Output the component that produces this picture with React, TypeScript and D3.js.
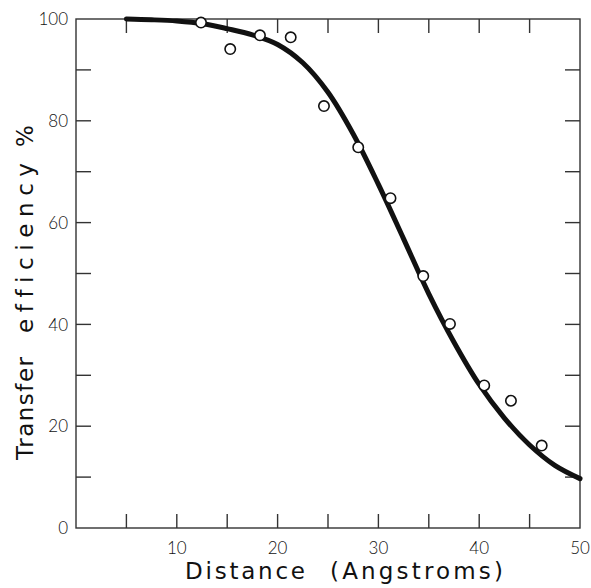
import React, { useEffect, useRef } from 'react';
import * as d3 from 'd3';

// measured points (distance in Angstroms, transfer efficiency %)
const pointDistance = [12.4, 15.3, 18.25, 21.3, 24.6, 28.0, 31.2, 34.45, 37.1, 40.5, 43.15, 46.2];
const pointEfficiency = [99.3, 94.1, 96.8, 96.4, 82.9, 74.8, 64.8, 49.5, 40.1, 28.0, 25.0, 16.2];

// fitted curve
const curveDistance = [5, 7.5, 10, 12.5, 15, 17.5, 20, 22.5, 25, 27.5, 30, 32.5, 35, 37.5, 40, 42.5, 45, 47.5, 50];
const curveEfficiency = [100, 99.85, 99.6, 99.1, 98.1, 96.9, 95.0, 91.4, 85.6, 77.4, 67.5, 56.8, 46.0, 36.5, 28.2, 21.6, 16.3, 12.3, 9.7];

const xTicks = [5, 10, 15, 20, 25, 30, 35, 40, 45];
const xLabels = [10, 20, 30, 40, 50];
const yTicks = [10, 20, 30, 40, 50, 60, 70, 80, 90];
const yLabels = [0, 20, 40, 60, 80, 100];

const App = () => {
    const ref = useRef<SVGSVGElement>(null);

    useEffect(() => {
        const width = 591;
        const height = 588;
        const left = 76;
        const right = 580;
        const top = 19;
        const bottom = 528;
        const tickLen = 14;
        const ink = '#111';

        const svg = d3.select(ref.current)
            .attr('width', width)
            .attr('height', height);
        svg.selectAll('*').remove();

        svg.append('rect').attr('width', width).attr('height', height).attr('fill', '#fff');

        const x = d3.scaleLinear().domain([0, 50]).range([left, right]);
        const y = d3.scaleLinear().domain([0, 100]).range([bottom, top]);

        // frame
        svg.append('rect')
            .attr('x', left).attr('y', top)
            .attr('width', right - left).attr('height', bottom - top)
            .attr('fill', 'none').attr('stroke', '#333').attr('stroke-width', 1.4);

        const g = svg.append('g').attr('stroke', '#333').attr('stroke-width', 1.4);

        // x ticks, inward from bottom and top
        g.selectAll('.xb').data(xTicks).join('line')
            .attr('x1', d => x(d)).attr('x2', d => x(d))
            .attr('y1', bottom).attr('y2', bottom - tickLen);
        g.selectAll('.xt').data(xTicks.filter(d => d !== 10)).join('line')
            .attr('x1', d => x(d)).attr('x2', d => x(d))
            .attr('y1', top).attr('y2', top + tickLen);

        // y ticks, inward from left and right
        g.selectAll('.yl').data(yTicks).join('line')
            .attr('x1', left).attr('x2', left + 15)
            .attr('y1', d => y(d)).attr('y2', d => y(d));
        g.selectAll('.yr').data(yTicks).join('line')
            .attr('x1', right).attr('x2', right - 15)
            .attr('y1', d => y(d)).attr('y2', d => y(d));

        const tickFont = 'Lato, "DejaVu Sans", sans-serif';
        const titleFont = '"DejaVu Sans", Lato, sans-serif';

        svg.append('g').selectAll('text').data(xLabels).join('text')
            .attr('x', d => x(d)).attr('y', 554)
            .attr('text-anchor', 'middle')
            .attr('font-family', tickFont).attr('font-size', 17).attr('font-weight', 300)
            .attr('fill', ink)
            .text(d => d);

        svg.append('g').selectAll('text').data(yLabels).join('text')
            .attr('x', 68).attr('y', d => y(d))
            .attr('dy', '0.36em')
            .attr('text-anchor', 'end')
            .attr('font-family', tickFont).attr('font-size', 17).attr('font-weight', 300)
            .attr('fill', ink)
            .text(d => d);

        // axis titles, word by word to keep the wide gaps of the lettering
        const title = (parent: d3.Selection<any, unknown, null, undefined>, word: string, pos: number, len: number) =>
            parent.append('text')
                .attr('x', pos)
                .attr('textLength', len).attr('lengthAdjust', 'spacing')
                .attr('font-family', titleFont).attr('font-size', 23)
                .style('font-variant-ligatures', 'none')
                .attr('fill', ink)
                .text(word);

        const xTitle = svg.append('g').attr('transform', 'translate(0,579)');
        title(xTitle, 'Distance', 185, 120);
        title(xTitle, '(Angstroms)', 330, 173);

        const yTitle = svg.append('g').attr('transform', 'translate(33,0) rotate(-90)');
        title(yTitle, 'Transfer', -460, 103);
        title(yTitle, 'efficiency', -333, 170);
        title(yTitle, '%', -150, 50).attr('textLength', null).attr('x', -147);

        // curve
        const curve = curveDistance.map((d, i) => [d, curveEfficiency[i]] as [number, number]);
        const line = d3.line<[number, number]>()
            .x(d => x(d[0]))
            .y(d => y(d[1]))
            .curve(d3.curveCatmullRom);

        svg.append('path')
            .datum(curve)
            .attr('fill', 'none')
            .attr('stroke', ink)
            .attr('stroke-width', 5)
            .attr('stroke-linecap', 'round')
            .attr('d', line);

        // data points
        svg.append('g').selectAll('circle').data(pointDistance).join('circle')
            .attr('cx', d => x(d))
            .attr('cy', (d, i) => y(pointEfficiency[i]))
            .attr('r', 5.2)
            .attr('fill', '#fff')
            .attr('stroke', ink)
            .attr('stroke-width', 1.6);
    }, []);

    return <svg ref={ref} style={{ display: 'block', position: 'absolute', left: 0, top: 0 }}></svg>;
};

export default App;
